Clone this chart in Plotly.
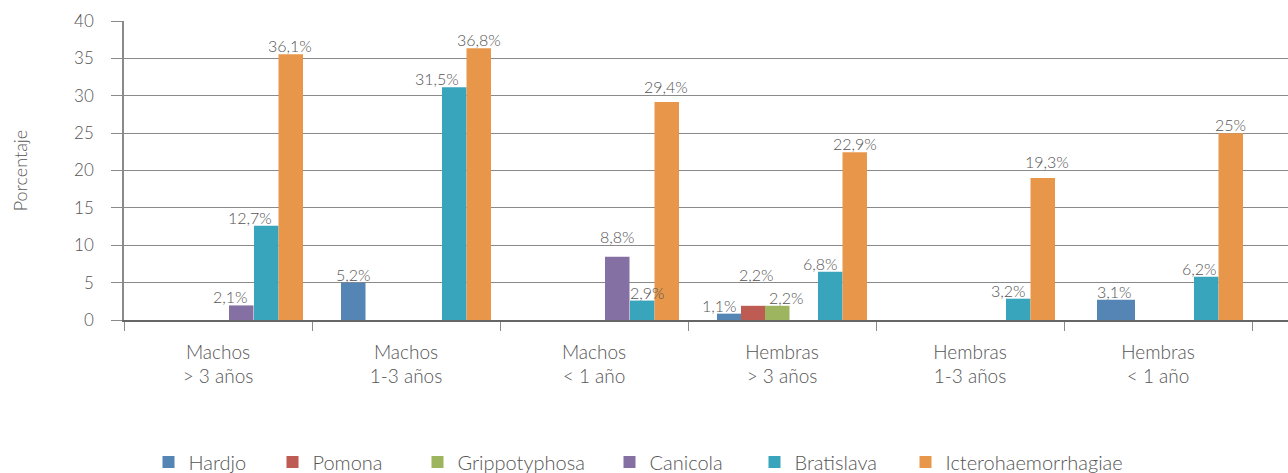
import plotly.graph_objects as go

# ---------------- data ----------------
categories = ["Machos<br>&gt; 3 años", "Machos<br>1-3 años", "Machos<br>&lt; 1 año",
              "Hembras<br>&gt; 3 años", "Hembras<br>1-3 años", "Hembras<br>&lt; 1 año"]
series_names = ["Hardjo", "Pomona", "Grippotyphosa", "Canicola", "Bratislava", "Icterohaemorrhagiae"]

hardjo = [None, 5.0, None, 0.85, None, 2.7]
pomona = [None, None, None, 1.9, None, None]
grippotyphosa = [None, None, None, 1.9, None, None]
canicola = [1.95, None, 8.45, None, None, None]
bratislava = [12.6, 31.15, 2.6, 6.45, 2.85, 5.8]
icterohaemorrhagiae = [35.55, 36.35, 29.15, 22.45, 19.0, 25.0]

hardjo_labels = [None, "5,2%", None, "1,1%", None, "3,1%"]
pomona_labels = [None, None, None, "2,2%", None, None]
grippotyphosa_labels = [None, None, None, "2,2%", None, None]
canicola_labels = ["2,1%", None, "8,8%", None, None, None]
bratislava_labels = ["12,7%", "31,5%", "2,9%", "6,8%", "3,2%", "6,2%"]
icterohaemorrhagiae_labels = ["36,1%", "36,8%", "29,4%", "22,9%", "19,3%", "25%"]

y_ticks = [0, 5, 10, 15, 20, 25, 30, 35, 40]

# ---------------- styles ----------------
colors = ["#5585B5", "#BE5B53", "#9DB55F", "#8570A3", "#38A5BD", "#E8974A"]
TEXT = "#555555"
GRID = "#8a8a8a"
FONT = "Lato"

W, H = 1288, 473
M_L, M_R, M_T, M_B = 124, 0, 21, 153
CAT_PX = 188.0
plot_w = W - M_L - M_R
x_max = -0.5 + plot_w / CAT_PX

bar_offset_px = [-65, -41, -17, 11, 36, 60.5]
bar_w_px = 24.5
special_geom = {(0, 5): (-61, 38)}  # (series, category): (offset px, width px)

label_nudge = {
    (0, 3): (-10, 0), (0, 5): (-2, 0),
    (1, 3): (3, 23),
    (2, 3): (9, 0),
    (3, 0): (-11, 0), (3, 2): (0, 12),
    (4, 0): (-16, 0), (4, 1): (-17, 0), (4, 2): (5.5, 0), (4, 3): (-10, 0),
    (4, 4): (-10, 0), (4, 5): (-7, 0),
    (5, 0): (-1, 0), (5, 2): (-1, 7), (5, 4): (4, 7.5),
}
LABEL_YSHIFT = -3

legend_centers_px = [168.5, 292.5, 437.5, 629.5, 774.5, 925.5]
legend_center_y_px = 462

all_values = [hardjo, pomona, grippotyphosa, canicola, bratislava, icterohaemorrhagiae]
all_labels = [hardjo_labels, pomona_labels, grippotyphosa_labels, canicola_labels,
              bratislava_labels, icterohaemorrhagiae_labels]

fig = go.Figure()
legend_ids = ["legend"] + ["legend%d" % (k + 1) for k in range(1, 6)]

for k, name in enumerate(series_names):
    vals = all_values[k]
    offs, wids = [], []
    for i in range(len(categories)):
        o, w = special_geom.get((k, i), (bar_offset_px[k], bar_w_px))
        offs.append(o / CAT_PX)
        wids.append(w / CAT_PX)
    fig.add_trace(go.Bar(
        x=categories, y=vals, name=name,
        marker=dict(color=colors[k], line=dict(width=0)),
        offset=offs, width=wids, legend=legend_ids[k],
    ))
    for i, (v, t) in enumerate(zip(vals, all_labels[k])):
        if t is None or v is None:
            continue
        dx, dy = label_nudge.get((k, i), (0, 0))
        fig.add_annotation(
            x=i + offs[i] + wids[i] / 2, y=v, text=t, showarrow=False,
            xref="x", yref="y", xanchor="center", yanchor="bottom",
            xshift=dx, yshift=LABEL_YSHIFT + dy,
            font=dict(family=FONT, size=16, color=TEXT, weight=300),
        )

layout_legends = {}
for k, lid in enumerate(legend_ids):
    layout_legends[lid] = dict(
        xref="container", yref="container",
        x=(legend_centers_px[k] - 20) / W,
        y=(H - legend_center_y_px) / H,
        xanchor="left", yanchor="middle", orientation="h",
        bgcolor="rgba(0,0,0,0)", borderwidth=0,
        font=dict(family=FONT, size=20, color=TEXT, weight=300),
    )

fig.update_layout(
    width=W, height=H,
    margin=dict(l=M_L, r=M_R, t=M_T, b=M_B, pad=0, autoexpand=False),
    paper_bgcolor="white", plot_bgcolor="white",
    barmode="overlay",
    font=dict(family=FONT, size=17, color=TEXT, weight=300),
    showlegend=True,
    **layout_legends,
)

fig.update_xaxes(
    type="category", range=[-0.5, x_max],
    tickson="boundaries", ticks="outside", ticklen=9, tickwidth=1.3, tickcolor=GRID,
    showgrid=False, showline=True, linecolor="#666666", linewidth=1.5,
    tickfont=dict(family=FONT, size=19, color=TEXT, weight=300),
    ticklabelstandoff=14, zeroline=False,
)
fig.update_yaxes(
    range=[0, 40], tickvals=y_ticks, ticktext=[str(t) for t in y_ticks],
    showgrid=True, gridcolor=GRID, gridwidth=1.2,
    ticks="outside", ticklen=11, tickwidth=1.2, tickcolor=GRID,
    showline=True, linecolor=GRID, linewidth=1.5, zeroline=False,
    tickfont=dict(family=FONT, size=17, color=TEXT, weight=300),
    ticklabelstandoff=14,
    title=dict(text="Porcentaje", standoff=42,
               font=dict(family=FONT, size=18, color=TEXT, weight=300)),
)

fig.write_html("out.html", config={"displayModeBar": False},
               post_script="document.body.style.margin='0';")
